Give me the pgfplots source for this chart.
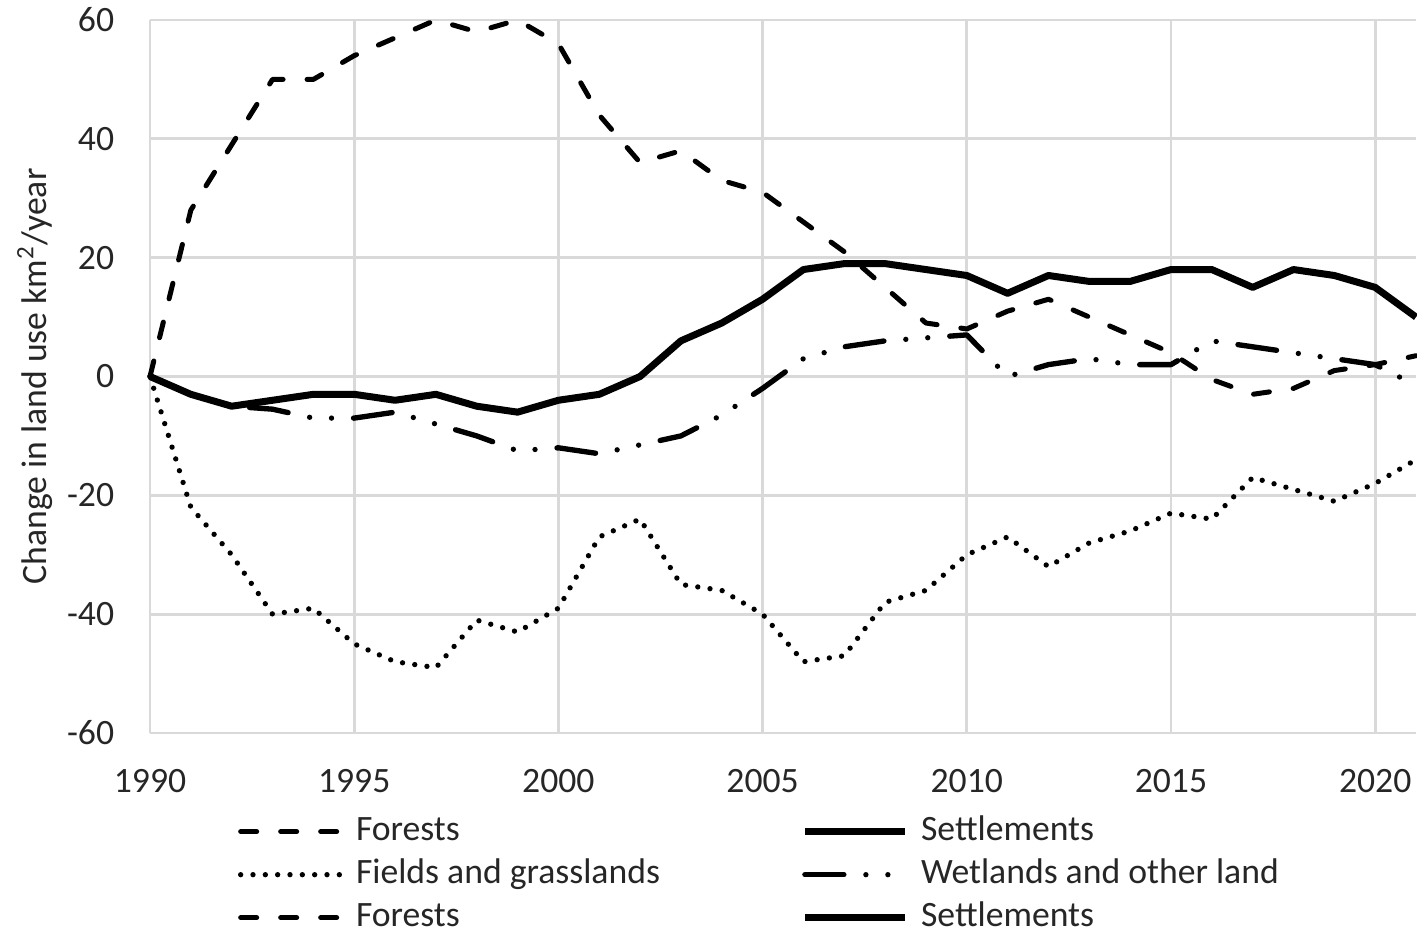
\documentclass[border=0pt]{standalone}
\usepackage{fontspec}
\setmainfont{Carlito}
\usepackage{pgfplots}
\pgfplotsset{compat=1.18}
\usepackage{pgfplotstable}
\usetikzlibrary{calc}

\pgfplotstableread{
year forests settlements fields wetlands
1990 0 0 0 0
1991 28 -3 -22 -3
1992 39 -5 -30 -5
1993 50 -4 -40 -5.5
1994 50 -3 -39 -7
1995 54 -3 -45 -7
1996 57 -4 -48 -6
1997 60 -3 -49 -8
1998 58 -5 -41 -10
1999 60 -6 -43 -12.5
2000 56 -4 -39 -12
2001 44 -3 -27 -13
2002 36 0 -24 -11.5
2003 38 6 -35 -10
2004 33 9 -36 -6.5
2005 31 13 -40 -2
2006 26 18 -48 3
2007 21 19 -47 5
2008 15 19 -38 6
2009 9 18 -36 6.5
2010 8 17 -30 7
2011 11 14 -27 0
2012 13 17 -32 2
2013 10 16 -28 3
2014 7 16 -26 2
2015 4 18 -23 2
2016 -0.5 18 -24 6
2017 -3 15 -17 5
2018 -2 18 -19 4
2019 1 17 -21 3
2020 2 15 -18 2
2021 3.5 10 -14 -1.5
}\landuse

\begin{document}
\fontsize{10.7}{12.8}\selectfont
\begin{tikzpicture}
\begin{axis}[
  scale only axis,
  width=379.8pt, height=213.9pt,
  xmin=1990, xmax=2021, ymin=-60, ymax=60,
  xtick={1990,1995,...,2020},
  ytick={-60,-40,...,60},
  grid=major,
  major grid style={draw=black!15, line width=0.8pt},
  axis line style={draw=none},
  major tick length=0pt,
  /pgf/number format/assume math mode=true,
  /pgf/number format/1000 sep={},
  tick label style={font=\fontsize{10.7}{12.8}\selectfont, text=black!85},
  xticklabel style={yshift=-7pt},
  yticklabel style={xshift=-7pt},
  ylabel={Change in land use km\textsuperscript{2}/year},
  every axis y label/.style={at={(axis description cs:0,0.5)}, xshift=-34.5pt, rotate=90, anchor=center, font=\fontsize{10.7}{12.8}\selectfont, text=black!85},
  clip=false,
  legend columns=2,
  legend cell align=left,
  legend image code/.code={\draw[#1] (0pt,0pt) -- (30pt,0pt);},
  legend style={
    at={(axis description cs:0,0)}, anchor=north west,
    xshift=26.4pt, yshift=-24.6pt,
    draw=none, fill=none, inner sep=0pt, outer sep=0pt,
    row sep=2.9pt,
    nodes={inner sep=0pt, text height=7.5pt, text depth=2.5pt, text=black!85},
    /tikz/every odd column/.style={column sep=3.8pt},
    /tikz/every even column/.style={column sep=42.4pt},
    font=\fontsize{10.7}{12.8}\selectfont,
  },
]
\addplot[black, line width=1.5pt, line cap=round, line join=round, dash pattern=on 4.8pt off 7.2pt, mark=none] table[x=year, y=forests] {\landuse};
\addlegendentry{Forests}
\addplot[black, line width=2.1pt, line join=round, mark=none] table[x=year, y=settlements] {\landuse};
\addlegendentry{Settlements}
\addplot[black, line width=1.6pt, line cap=round, line join=round, dash pattern=on 0pt off 3.7pt, mark=none] table[x=year, y=fields] {\landuse};
\addlegendentry{Fields and grasslands}
\addplot[black, line width=1.6pt, line cap=round, line join=round, dash pattern=on 11.7pt off 6.6pt on 0pt off 6.6pt on 0pt off 6.6pt, mark=none] table[x=year, y=wetlands] {\landuse};
\addlegendentry{Wetlands and other land}
\addlegendimage{black, line width=1.5pt, line cap=round, dash pattern=on 4.8pt off 7.2pt}
\addlegendentry{Forests}
\addlegendimage{black, line width=2.1pt}
\addlegendentry{Settlements}
\end{axis}
\pgfresetboundingbox
\path[use as bounding box] ($(current axis.south west)+(-45pt,-59.1pt)$) rectangle ($(current axis.north east)+(0.3pt,6pt)$);
\end{tikzpicture}
\end{document}
